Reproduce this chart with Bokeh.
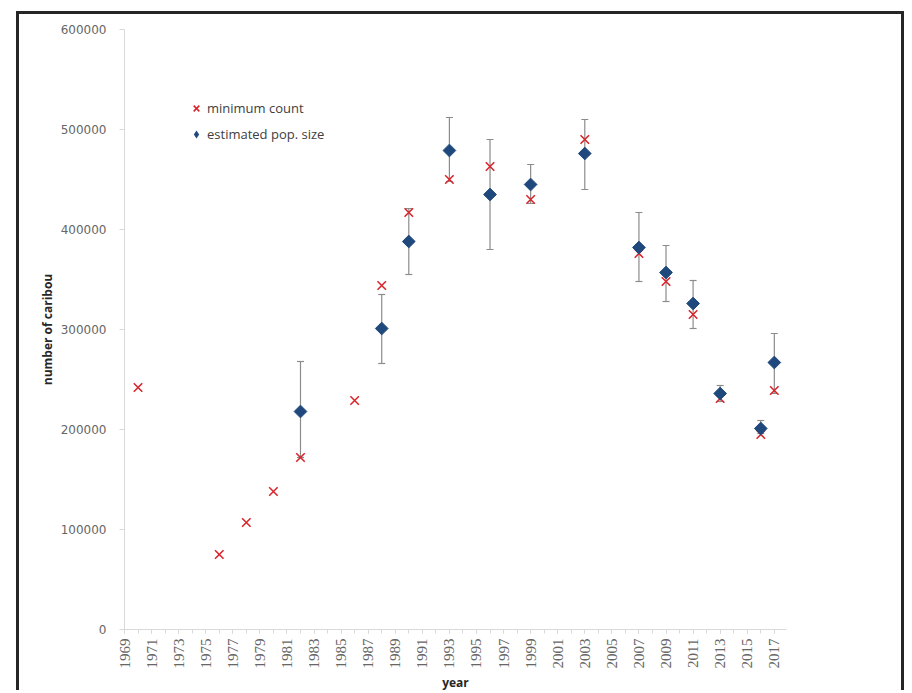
import math
from bokeh.plotting import figure
from bokeh.models import (ColumnDataSource, Whisker, TeeHead, Legend, LegendItem,
                          FixedTicker, BasicTickFormatter, Range1d)
from bokeh.embed import file_html
from bokeh.resources import INLINE

# ---- data ----
min_years = [1970, 1976, 1978, 1980, 1982, 1986, 1988, 1990, 1993, 1996, 1999,
             2003, 2007, 2009, 2011, 2013, 2016, 2017]
min_counts = [242000, 75000, 107000, 138000, 172000, 229000, 344000, 417000, 450000,
              463000, 430000, 490000, 376000, 348000, 315000, 231000, 195000, 239000]

est_years = [1982, 1988, 1990, 1993, 1996, 1999, 2003, 2007, 2009, 2011, 2013, 2016, 2017]
est_sizes = [218000, 301000, 388000, 479000, 435000, 445000, 476000, 382000, 357000,
             326000, 236000, 201000, 267000]
est_lower = [172000, 266000, 355000, 448000, 380000, 426000, 440000, 348000, 328000,
             301000, 228000, 196000, 236000]
est_upper = [268000, 335000, 421000, 512000, 490000, 465000, 510000, 417000, 384000,
             349000, 244000, 209000, 296000]

y_ticks = [0, 100000, 200000, 300000, 400000, 500000, 600000]
x_label_years = list(range(1969, 2018, 2))
x_all_years = list(range(1969, 2018))

# ---- figure ----
p = figure(width=888, height=679, output_backend="svg", toolbar_location=None,
           x_range=Range1d(1969, 2017.9), y_range=Range1d(0, 600000),
           min_border_left=105, min_border_right=121, min_border_top=15,
           min_border_bottom=55,
           styles={"border-top": "3px solid #262626",
                   "border-left": "3px solid #262626",
                   "border-right": "3px solid #262626",
                   "margin-left": "16px", "margin-top": "11px"})
p.outline_line_color = None
p.xgrid.visible = False
p.ygrid.visible = False

axis_col = "#d9d9d9"
# y axis
p.yaxis.ticker = FixedTicker(ticks=y_ticks)
p.yaxis.formatter = BasicTickFormatter(use_scientific=False)
p.yaxis.axis_line_color = axis_col
p.yaxis.major_tick_line_color = axis_col
p.yaxis.major_tick_in = 0
p.yaxis.major_tick_out = 5
p.yaxis.minor_tick_line_color = None
p.yaxis.major_label_text_font = "DejaVu Sans"
p.yaxis.major_label_text_font_size = "12px"
p.yaxis.major_label_text_color = "#666666"
p.yaxis.major_label_standoff = 13
p.yaxis.axis_label = "number of caribou"
p.yaxis.axis_label_text_font = "Open Sans"
p.yaxis.axis_label_text_font_style = "bold"
p.yaxis.axis_label_text_font_size = "12px"
p.yaxis.axis_label_text_color = "#262626"
p.yaxis.axis_label_standoff = 2

# x axis
p.xaxis.ticker = FixedTicker(ticks=x_label_years, minor_ticks=x_all_years)
p.xaxis.axis_line_color = axis_col
p.xaxis.major_tick_line_color = axis_col
p.xaxis.minor_tick_line_color = axis_col
p.xaxis.major_tick_in = 0
p.xaxis.major_tick_out = 4
p.xaxis.minor_tick_in = 0
p.xaxis.minor_tick_out = 4
p.xaxis.major_label_orientation = math.pi / 2
p.xaxis.major_label_text_font = "Liberation Serif"
p.xaxis.major_label_text_font_size = "15px"
p.xaxis.major_label_text_color = "#666666"
p.xaxis.major_label_standoff = 5
p.xaxis.axis_label = "year"
p.xaxis.axis_label_text_font = "Open Sans"
p.xaxis.axis_label_text_font_style = "bold"
p.xaxis.axis_label_text_font_size = "12px"
p.xaxis.axis_label_text_color = "#262626"
p.xaxis.axis_label_standoff = 2

# ---- glyphs ----
est_src = ColumnDataSource(dict(x=est_years, y=est_sizes, lo=est_lower, hi=est_upper))
min_src = ColumnDataSource(dict(x=min_years, y=min_counts))

err_col = "#8c8c8c"
wh = Whisker(base="x", lower="lo", upper="hi", source=est_src, dimension="height",
             line_color=err_col, line_width=1.2,
             upper_head=TeeHead(size=7, line_color=err_col, line_width=1.2),
             lower_head=TeeHead(size=7, line_color=err_col, line_width=1.2))
p.add_layout(wh)

r_min = p.scatter("x", "y", source=min_src, marker="x", size=12,
                  line_color="#d9262c", line_width=1.6)
r_est = p.scatter("x", "y", source=est_src, marker="square", angle=math.pi / 4,
                  size=9, fill_color="#1f497d", line_color="#1f497d")
# legend swatch: same series drawn as zero-size diamonds (only the legend shows it)
r_est_leg = p.scatter("x", "y", source=est_src, marker="diamond", size=0,
                      fill_color="#1f497d", line_color=None)

legend = Legend(items=[LegendItem(label="minimum count", renderers=[r_min]),
                       LegendItem(label="estimated pop. size", renderers=[r_est_leg])],
                location=(62, 485), padding=0, margin=0, spacing=6,
                glyph_width=20, glyph_height=20, label_height=20, label_standoff=1,
                label_text_font="Open Sans", label_text_font_size="13px",
                label_text_color="#404040",
                border_line_color=None, background_fill_alpha=0)
p.add_layout(legend)

open("out.html", "w").write(file_html(p, INLINE))
